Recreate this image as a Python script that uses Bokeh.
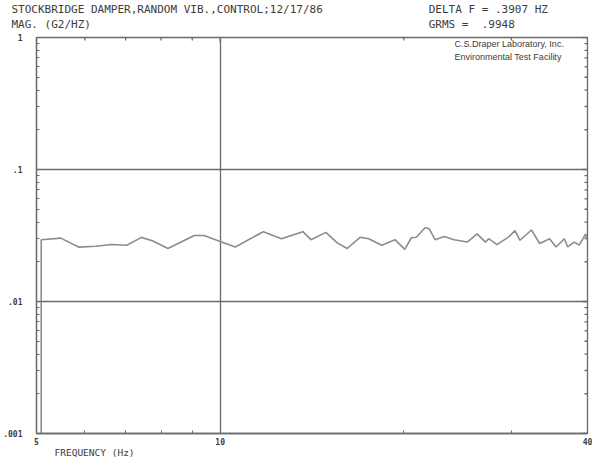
import math
from bokeh.plotting import figure
from bokeh.models import FixedTicker, Label, ColumnDataSource
from bokeh.embed import file_html
from bokeh.resources import INLINE

# ---- data ----
freq = [5.09, 5.09, 5.48, 5.87, 6.25, 6.64, 7.03, 7.43, 7.76, 8.21, 9.07, 9.41, 9.95,
        10.59, 11.77, 12.6, 13.66, 14.09, 14.9, 15.56, 16.15, 16.97, 17.51, 18.4,
        19.34, 20.07, 20.58, 20.97, 21.68, 22.03, 22.5, 23.3, 24.17, 25.41, 26.37,
        27.21, 27.55, 28.42, 29.68, 30.42, 31.0, 32.37, 33.4, 34.67, 35.53, 36.66,
        37.11, 38.05, 38.76, 39.73, 40.0]
mag = [0.0008, 0.0294, 0.0302, 0.0258, 0.0262, 0.0270, 0.0267, 0.0306, 0.0287, 0.0252,
       0.0316, 0.0316, 0.0287, 0.0259, 0.0338, 0.0299, 0.0338, 0.0294, 0.0334, 0.0278,
       0.0252, 0.0307, 0.0299, 0.0267, 0.0294, 0.0248, 0.0304, 0.0307, 0.0364, 0.0354,
       0.0294, 0.0311, 0.0294, 0.0282, 0.0325, 0.0282, 0.0299, 0.0270, 0.0307, 0.0344,
       0.0291, 0.0348, 0.0275, 0.0299, 0.0259, 0.0299, 0.0259, 0.0282, 0.0267, 0.0325,
       0.0291]

x_major = [5, 10, 40]
x_minor = [6, 7, 8, 9, 20, 30]
x_labels = {5: "5", 10: "10", 40: "40"}
y_major = [0.001, 0.01, 0.1, 1]
y_minor = [m * d for d in (0.001, 0.01, 0.1) for m in range(2, 10)]
y_labels = {0.001: ".001", 0.01: ".01", 0.1: ".1", 1: "1"}
x_grid = [10]
y_grid = [0.01, 0.1]

title_text = "STOCKBRIDGE DAMPER,RANDOM VIB.,CONTROL;12/17/86"
ylabel_text = "MAG. (G2/HZ)"
xlabel_text = "FREQUENCY (Hz)"
delta_text = "DELTA F = .3907 HZ"
grms_text = "GRMS = .9948"
lab_lines = ["C.S.Draper Laboratory, Inc.", "Environmental Test Facility"]

FRAME = "#6a6a6a"
TXT = "#3c3c3c"
MONO = "DejaVu Sans Mono"
NB = "\u00a0"

p = figure(width=592, height=457, x_axis_type="log", y_axis_type="log",
           x_range=(5, 40), y_range=(0.001, 1),
           output_backend="svg", toolbar_location=None,
           min_border_left=29, min_border_right=5, min_border_top=36, min_border_bottom=24)
p.outline_line_color = FRAME
p.outline_line_width = 1.3

def style_axis(ax, major, minor, labels):
    ax.ticker = FixedTicker(ticks=major, minor_ticks=minor)
    ax.major_label_overrides = labels
    ax.axis_line_color = FRAME
    ax.axis_line_width = 1.3
    ax.major_tick_line_color = FRAME
    ax.minor_tick_line_color = FRAME
    ax.major_tick_in = 5
    ax.major_tick_out = 0
    ax.minor_tick_in = 3
    ax.minor_tick_out = 0
    ax.major_label_text_font = MONO
    ax.major_label_text_font_style = "bold"
    ax.major_label_text_color = TXT
    ax.major_label_text_font_size = "8px"

xa = p.xaxis[0]
style_axis(xa, x_major, x_minor, x_labels)
xa.major_label_standoff = 4
ya = p.yaxis[0]
style_axis(ya, y_major, y_minor, y_labels)
ya.major_label_standoff = 14

# inward ticks on the right and top edges of the frame
p.ray(x=[40] * len(y_minor), y=y_minor, length=3, length_units="screen",
      angle=math.pi, line_color=FRAME, line_width=1.3)
p.ray(x=[40] * len(y_major), y=y_major, length=5, length_units="screen",
      angle=math.pi, line_color=FRAME, line_width=1.3)
p.ray(x=x_minor, y=[1] * len(x_minor), length=3, length_units="screen",
      angle=-math.pi / 2, line_color=FRAME, line_width=1.3)
p.ray(x=x_major, y=[1] * len(x_major), length=5, length_units="screen",
      angle=-math.pi / 2, line_color=FRAME, line_width=1.3)

p.xgrid.ticker = FixedTicker(ticks=x_grid)
p.ygrid.ticker = FixedTicker(ticks=y_grid)
for g in (p.xgrid, p.ygrid):
    g.grid_line_color = FRAME
    g.grid_line_width = 1.3
    g.grid_line_alpha = 1.0

src = ColumnDataSource(dict(f=freq, m=mag))
p.line("f", "m", source=src, line_color="#8c8c8c", line_width=1.6)

def lab(txt, x, y, size, font=MONO, place="center"):
    p.add_layout(Label(x=x, y=y, x_units="screen", y_units="screen", text=txt,
                       text_font=font, text_font_size=size, text_color=TXT,
                       text_align="left", text_baseline="middle"), place)

# header: two monospaced rows, left and right parts separated by no-break spaces
row1 = title_text + NB * 16 + delta_text
row2 = ylabel_text + NB * 51 + grms_text.replace(" .", NB + NB + ".")
lab(row1, -25, 28, "11px", place="above")
lab(row2, -25, 0, "11px", place="above")
# the x-axis caption sits in a third header panel but is drawn below the frame
lab(xlabel_text, 18, -441, "9.5px", place="above")
lab(lab_lines[0], 418, 390, "9px", font="Liberation Sans")
lab(lab_lines[1], 418, 377, "9px", font="Liberation Sans")

open("out.html", "w").write(file_html(p, INLINE))
